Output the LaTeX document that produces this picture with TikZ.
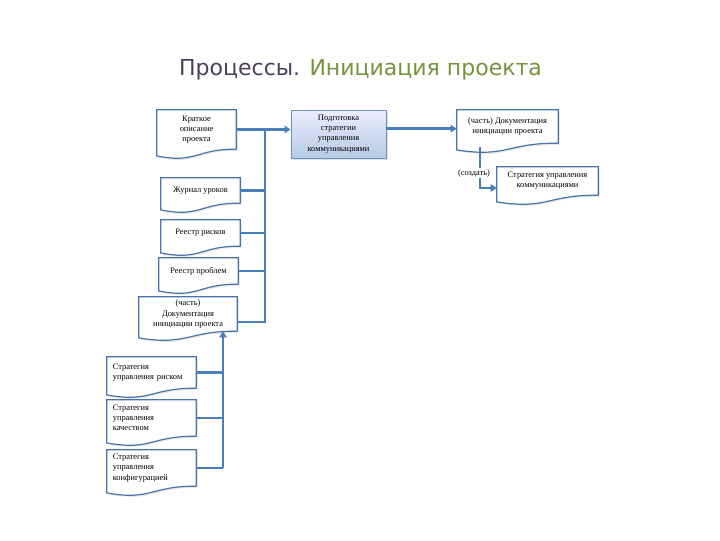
\documentclass[tikz,border=0pt]{standalone}
\usepackage{fontspec}
\setmainfont{Liberation Serif}
\newfontfamily\titlefont{DejaVu Sans}
\usetikzlibrary{calc,arrows.meta,shadows}

\definecolor{boxblue}{HTML}{4F81BD}
\definecolor{linkblue}{HTML}{4A7EBB}
\definecolor{titlegray}{HTML}{4B3F5E}
\definecolor{titlegreen}{HTML}{76923C}

\tikzset{
  docbox/.style 2 args={inner sep=2pt, minimum width=#1*0.75pt, minimum height=#2*0.75pt,
    align=center, font=\fontsize{6.3}{7.6}\selectfont},
  leftdoc/.style={align=left, text width=58pt},
  docline/.style={draw=boxblue!90!black, line width=0.9pt, fill=white,
    drop shadow={opacity=0.18, shadow xshift=1.2pt, shadow yshift=-1.2pt}},
  procbox/.style={draw=boxblue!85, line width=0.6pt, top color=blue!7, bottom color=boxblue!42,
    drop shadow={opacity=0.25, shadow xshift=1.5pt, shadow yshift=-1.5pt},
    minimum width=71.3pt, minimum height=36pt, align=center, font=\fontsize{6.3}{7.6}\selectfont},
  link/.style={draw=linkblue, line width=1.9pt},
  arr/.style={-{Triangle[length=4.5pt,width=5.5pt]}},
  lbl/.style={fill=white, inner sep=1pt, font=\fontsize{6.3}{7.6}\selectfont},
  titletext/.style={font=\titlefont\fontsize{16.5}{18}\selectfont}
}

% контур документа с волнистым низом
\newcommand{\docshape}[1]{%
  \filldraw[docline] (#1.south east) -- (#1.north east) -- (#1.north west)
    -- ([yshift=-5pt]#1.south west)
    .. controls ([yshift=-11pt]#1.south) and ([yshift=0.5pt]#1.south) .. (#1.south east);}

\begin{document}
\begin{tikzpicture}[x=0.75pt,y=-0.75pt]
  \useasboundingbox (0,0) rectangle (720,540);

  % заголовок
  \node[titletext] (title) at (360.5,70)
    {\textcolor{titlegray}{Процессы.} \textcolor{titlegreen}{Инициация проекта}};

  % входы
  \node[docbox={79}{39}] (brief) at (196.5,129.5) {};
  \node[docbox={79}{25}] (lessons) at (200.5,190.5) {};
  \node[docbox={79}{26}] (risks) at (200.5,233) {};
  \node[docbox={79}{26}] (issues) at (198.5,271) {};
  \node[docbox={98}{34}] (pid2) at (188,314) {};
  \node[docbox={89}{31}, leftdoc] (riskstrat) at (151.5,372.5) {};
  \node[docbox={89}{36}, leftdoc] (qualstrat) at (151.5,418) {};
  \node[docbox={89}{36}, leftdoc] (confstrat) at (151.5,468) {};

  % выходы
  \node[docbox={101}{33}] (pid1) at (507.5,126.5) {};
  \node[docbox={101}{28}] (comms) at (547.5,181) {};

  \foreach \n in {brief,lessons,risks,issues,pid2,riskstrat,qualstrat,confstrat,pid1,comms}
    \docshape{\n};

  % тексты документов
  \node[docbox={79}{39}] at (brief) {Краткое\\описание\\проекта};
  \node[docbox={79}{25}] at (lessons) {Журнал уроков};
  \node[docbox={79}{26}] at (risks) {Реестр рисков};
  \node[docbox={79}{26}] at (issues) {Реестр проблем};
  \node[docbox={98}{34}] at (pid2) {(часть)\\Документация\\инициации проекта};
  \node[docbox={89}{31}, leftdoc] at (riskstrat) {Стратегия\\управления риском};
  \node[docbox={89}{36}, leftdoc] at (qualstrat) {Стратегия\\управления\\качеством};
  \node[docbox={89}{36}, leftdoc] at (confstrat) {Стратегия\\управления\\конфигурацией};
  \node[docbox={101}{33}] at (pid1) {(часть) Документация\\инициации проекта};
  \node[docbox={101}{28}] at (comms) {Стратегия управления\\коммуникациями};

  % процесс
  \node[procbox] (prep) at (338.5,134) {Подготовка\\стратегии\\управления\\коммуникациями};

  % связи
  \coordinate (bus) at (265,129.5);
  \coordinate (pidjoin) at ([yshift=-6pt]pid2.east);
  \draw[link, arr] (brief.east) -- (brief.east -| prep.west);
  \draw[link] (bus) -- (bus |- pidjoin) -- (pidjoin);
  \foreach \n in {lessons,risks,issues}
    \draw[link] (\n.east) -- (\n.east -| bus);

  \coordinate (lowbus) at (223,468);
  \draw[link, arr] (lowbus) -- (lowbus |- pid2.south);
  \foreach \n in {riskstrat,qualstrat,confstrat}
    \draw[link] (\n.east) -- (\n.east -| lowbus);

  \draw[link, arr] ([yshift=4pt]prep.east) -- ([yshift=4pt]prep.east -| pid1.west);

  \coordinate (turn) at (480,188);
  \draw[link, arr] ($(pid1.south -| turn)+(0,4)$) -- (turn) -- (turn -| comms.west);
  \node[lbl] (create) at (474,173) {(создать)};

\end{tikzpicture}
\end{document}
